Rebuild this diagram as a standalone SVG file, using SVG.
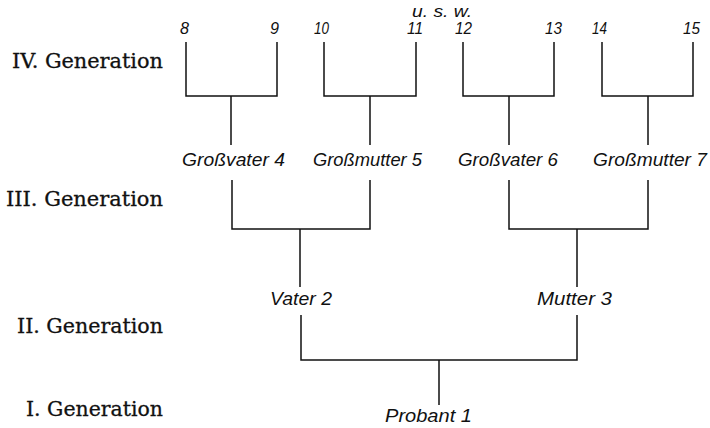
<svg xmlns="http://www.w3.org/2000/svg" width="710" height="428" viewBox="0 0 710 428">
<style>
.gen{font-family:"DejaVu Serif","Liberation Serif",serif;font-size:20px;fill:#111;stroke:#111;stroke-width:0.3;}
.lbl{font-family:"Liberation Sans","DejaVu Sans",sans-serif;font-style:italic;font-size:18px;fill:#111;}
.num{font-family:"Liberation Sans","DejaVu Sans",sans-serif;font-style:italic;font-size:17px;fill:#111;}
.ln{fill:none;stroke:#111;stroke-width:1.5;stroke-linejoin:miter;}
</style>
<rect width="710" height="428" fill="#fff"/>
<g id="generations">
<text class="gen" x="12" y="68" textLength="151" lengthAdjust="spacingAndGlyphs">IV. Generation</text>
<text class="gen" x="6" y="206" textLength="157" lengthAdjust="spacingAndGlyphs">III. Generation</text>
<text class="gen" x="17" y="333" textLength="146" lengthAdjust="spacingAndGlyphs">II. Generation</text>
<text class="gen" x="26" y="416" textLength="137" lengthAdjust="spacingAndGlyphs">I. Generation</text>
</g>
<g id="connectors">
<path class="ln" d="M186,42 V96 H277 V42 M231,96 V145"/>
<path class="ln" d="M324,42 V96 H416 V42 M370,96 V145"/>
<path class="ln" d="M463,42 V96 H554 V42 M509,96 V145"/>
<path class="ln" d="M602,42 V96 H693 V42 M648,96 V145"/>
<path class="ln" d="M232,180 V229 H370 V180 M300,229 V287"/>
<path class="ln" d="M509,180 V229 H648 V180 M577,229 V287"/>
<path class="ln" d="M301,315 V360 H577 V315 M439,360 V405"/>
</g>
<g id="n8"><text class="num" x="180" y="34" textLength="9" lengthAdjust="spacingAndGlyphs">8</text></g>
<g id="n9"><text class="num" x="270" y="34" textLength="9" lengthAdjust="spacingAndGlyphs">9</text></g>
<g id="n10"><text class="num" x="314" y="34" textLength="15" lengthAdjust="spacingAndGlyphs">10</text></g>
<g id="n11"><text class="num" x="407" y="34" textLength="16" lengthAdjust="spacingAndGlyphs">11</text></g>
<g id="n12"><text class="num" x="455" y="34" textLength="17" lengthAdjust="spacingAndGlyphs">12</text></g>
<g id="n13"><text class="num" x="545" y="34" textLength="17" lengthAdjust="spacingAndGlyphs">13</text></g>
<g id="n14"><text class="num" x="592" y="34" textLength="15" lengthAdjust="spacingAndGlyphs">14</text></g>
<g id="n15"><text class="num" x="683" y="34" textLength="17" lengthAdjust="spacingAndGlyphs">15</text></g>
<g id="usw"><text class="num" x="412" y="17" textLength="60" lengthAdjust="spacingAndGlyphs">u. s. w.</text></g>
<g id="n4"><text class="lbl" x="182" y="166" textLength="103" lengthAdjust="spacingAndGlyphs">Großvater 4</text></g>
<g id="n5"><text class="lbl" x="313" y="166" textLength="109" lengthAdjust="spacingAndGlyphs">Großmutter 5</text></g>
<g id="n6"><text class="lbl" x="458" y="166" textLength="100" lengthAdjust="spacingAndGlyphs">Großvater 6</text></g>
<g id="n7"><text class="lbl" x="593" y="166" textLength="114" lengthAdjust="spacingAndGlyphs">Großmutter 7</text></g>
<g id="n2"><text class="lbl" x="270" y="305" textLength="62" lengthAdjust="spacingAndGlyphs">Vater 2</text></g>
<g id="n3"><text class="lbl" x="537" y="305" textLength="75" lengthAdjust="spacingAndGlyphs">Mutter 3</text></g>
<g id="n1"><text class="lbl" x="385" y="422" textLength="87" lengthAdjust="spacingAndGlyphs">Probant 1</text></g>
</svg>
